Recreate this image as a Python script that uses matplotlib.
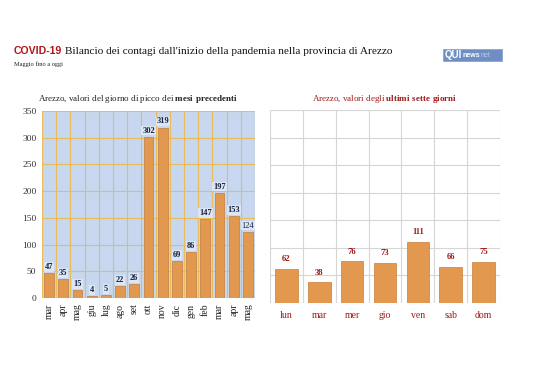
import matplotlib
matplotlib.use("Agg")
import matplotlib.pyplot as plt
import numpy as np

months = ["mar", "apr", "mag", "giu", "lug", "ago", "set", "ott", "nov", "dic", "gen", "feb", "mar", "apr", "mag"]
peak_values = [47, 35, 15, 4, 5, 22, 26, 302, 319, 69, 86, 147, 197, 153, 124]
days = ["lun", "mar", "mer", "gio", "ven", "sab", "dom"]
week_values = [62, 38, 76, 73, 111, 66, 75]
y_ticks = [0, 50, 100, 150, 200, 250, 300, 350]

SERIF = "Liberation Serif"
BAR = "#e2984f"
BAR_EDGE = "#c97d3a"
DARKRED = "#a01818"

plt.rcParams["mathtext.fontset"] = "custom"
plt.rcParams["mathtext.rm"] = "Liberation Serif"
plt.rcParams["mathtext.bf"] = "Liberation Serif:bold"

fig = plt.figure(figsize=(5.38, 3.80), dpi=100)
fig.patch.set_facecolor("white")

# ---- Title ----
t1 = fig.text(14/538, 1-51/380, "COVID-19", fontsize=7.6, fontweight="bold",
              family="Liberation Sans", color="#b3141c", va="center", ha="left")
fig.canvas.draw()
bb = t1.get_window_extent()
x_next = (bb.x1 + 3) / fig.bbox.width
fig.text(x_next, 1-51/380, "Bilancio dei contagi dall'inizio della pandemia nella provincia di Arezzo",
         fontsize=8.1, family=SERIF, color="#111111", va="center", ha="left")
fig.text(14/538, 1-64/380, "Maggio fino a oggi", fontsize=4.6, family=SERIF, color="#222222",
         va="center", ha="left")

# logo
fig.patches.append(matplotlib.patches.Rectangle((443/538, 1-61/380), 59/538, 12/380,
                    transform=fig.transFigure, facecolor="#6f8fc4", edgecolor="#8aa4d0", lw=0.6))
lt = fig.text(445/538, 1-55/380, "QUI", fontsize=7, fontweight="bold", family="Liberation Sans",
              color="white", va="center", ha="left")
fig.canvas.draw()
lb = lt.get_window_extent()
lt2 = fig.text((lb.x1 + 0.5)/538, 1-55.5/380, "news", fontsize=5, fontweight="bold",
               family="Liberation Sans", color="white", va="center", ha="left")
fig.canvas.draw()
lb2 = lt2.get_window_extent()
fig.text((lb2.x1 + 0.5)/538, 1-55.5/380, "net", fontsize=5, family="Liberation Sans",
         color="#b9c9e6", va="center", ha="left")

# ---- Left chart ----
ax1 = fig.add_axes([42/538, 1-298/380, 213/538, 187/380])
ax1.set_facecolor("#c7d7ef")
x1 = np.arange(len(months))
ax1.bar(x1, peak_values, width=0.7, color=BAR, edgecolor=BAR_EDGE, linewidth=0.5, zorder=3)
ax1.set_xlim(-0.5, len(months) - 0.5)
ax1.set_ylim(0, 350)
ax1.set_yticks(y_ticks)
ax1.set_yticklabels([str(v) for v in y_ticks], family=SERIF, fontsize=6.8, color="#333333")
ax1.set_xticks(x1)
ax1.set_xticklabels(months, rotation=90, family=SERIF, fontsize=7, color="#222222")
ax1.set_xticks(np.arange(len(months) + 1) - 0.5, minor=True)
ax1.tick_params(which="both", length=0, pad=4)
ax1.grid(axis="y", which="major", color="#e8bc5a", linewidth=0.8, zorder=1)
ax1.grid(axis="x", which="minor", color="#e8bc5a", linewidth=0.8, zorder=1)
ax1.grid(axis="x", which="major", visible=False)
for s in ax1.spines.values():
    s.set_visible(False)
for xi, v in zip(x1, peak_values):
    ax1.text(xi, v + 4, str(v), ha="center", va="bottom", fontsize=6,
             fontweight="normal" if v == 124 else "bold", family=SERIF,
             color="#1a2340", zorder=4,
             bbox=dict(boxstyle="square,pad=0.1", facecolor="#dfe8f6", edgecolor="none", alpha=0.9))
fig.text(138/538, 1-99/380, "Arezzo, valori del giorno di picco dei $\\mathbf{mesi\\ precedenti}$",
         fontsize=6.5, family=SERIF, color="#222222", ha="center", va="center")

# ---- Right chart ----
ax2 = fig.add_axes([270/538, 1-303/380, 230/538, 193/380])
ax2.set_facecolor("white")
x2 = np.arange(len(days))
ax2.bar(x2, week_values, width=0.69, color=BAR, edgecolor=BAR_EDGE, linewidth=0.5, zorder=3)
ax2.set_xlim(-0.5, len(days) - 0.5)
ax2.set_ylim(0, 350)
ax2.set_yticks(y_ticks)
ax2.set_yticklabels([])
ax2.set_xticks(x2)
ax2.set_xticklabels(days, family=SERIF, fontsize=7, color=DARKRED)
ax2.set_xticks(np.arange(len(days) + 1) - 0.5, minor=True)
ax2.tick_params(which="both", length=0, pad=6)
ax2.grid(axis="y", which="major", color="#d6d6d6", linewidth=0.8, zorder=1)
ax2.grid(axis="x", which="minor", color="#d6d6d6", linewidth=0.8, zorder=1)
ax2.grid(axis="x", which="major", visible=False)
for s in ax2.spines.values():
    s.set_visible(False)
for xi, v in zip(x2, week_values):
    ax2.text(xi, v + 10, str(v), ha="center", va="bottom", fontsize=6.2, fontweight="bold",
             family=SERIF, color=DARKRED, zorder=4)
fig.text(385/538, 1-99/380, "Arezzo, valori degli $\\mathbf{ultimi\\ sette\\ giorni}$",
         fontsize=6.5, family=SERIF, color=DARKRED, ha="center", va="center")

fig.savefig("out.png", dpi=100, facecolor="white")
